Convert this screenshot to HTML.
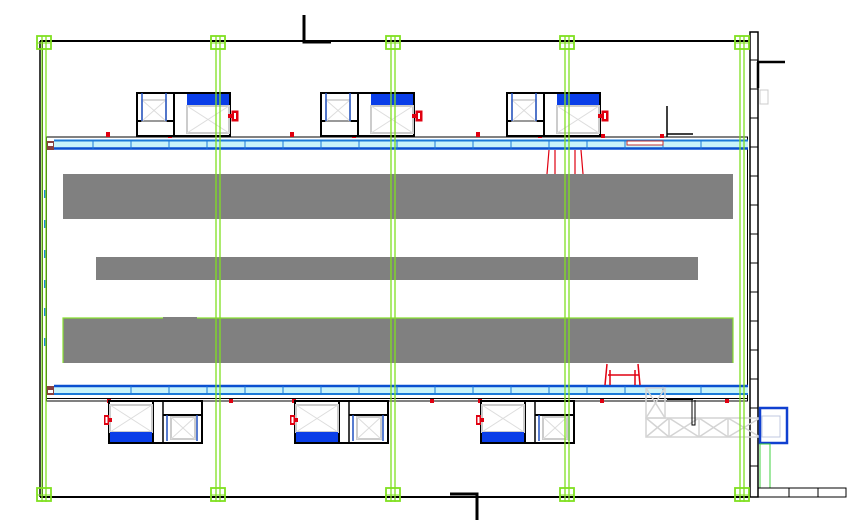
<!DOCTYPE html>
<html><head><meta charset="utf-8"><style>html,body{margin:0;padding:0;background:#fff}svg{display:block}</style></head>
<body>
<svg width="861" height="531" viewBox="0 0 861 531" xmlns="http://www.w3.org/2000/svg">
<defs>
<g id="tu">
  <rect x="0" y="0" width="93" height="43" fill="#fff" stroke="#000" stroke-width="2"/>
  <line x1="37" y1="0" x2="37" y2="43" stroke="#000" stroke-width="2"/>
  <line x1="0" y1="28" x2="37" y2="28" stroke="#000" stroke-width="2"/>
  <rect x="5" y="7" width="24" height="21" fill="none" stroke="#ccc" stroke-width="1.5"/>
  <line x1="5" y1="7" x2="29" y2="28" stroke="#ddd"/><line x1="29" y1="7" x2="5" y2="28" stroke="#ddd"/>
  <line x1="5" y1="0" x2="5" y2="28" stroke="#2050c0" stroke-width="1.5"/><line x1="29" y1="0" x2="29" y2="28" stroke="#2050c0" stroke-width="1.5"/>
  <rect x="50" y="1" width="42" height="12" fill="#0a3ee8"/>
  <rect x="50" y="13" width="42" height="27" fill="none" stroke="#ccc" stroke-width="2"/>
  <line x1="50" y1="13" x2="92" y2="40" stroke="#ddd"/><line x1="92" y1="13" x2="50" y2="40" stroke="#ddd"/>
  <rect x="95" y="18" width="6" height="10" fill="#e00010" stroke="#e00010" stroke-width="1"/>
  <rect x="97" y="20" width="2" height="6" fill="#fff"/>
  <rect x="91" y="21" width="4" height="4" fill="#e00010"/>
</g>
<g id="bu">
  <rect x="0" y="0" width="93" height="42" fill="#fff" stroke="#000" stroke-width="2"/>
  <line x1="44" y1="0" x2="44" y2="42" stroke="#000" stroke-width="2"/>
  <line x1="54" y1="0" x2="54" y2="42" stroke="#000" stroke-width="1.5"/>
  <line x1="54" y1="14" x2="93" y2="14" stroke="#000" stroke-width="2"/>
  <rect x="1" y="4" width="42" height="27" fill="none" stroke="#ccc" stroke-width="2"/>
  <line x1="1" y1="4" x2="43" y2="31" stroke="#ddd"/><line x1="43" y1="4" x2="1" y2="31" stroke="#ddd"/>
  <rect x="1" y="31" width="42" height="10" fill="#0a3ee8"/>
  <rect x="62" y="16" width="24" height="22" fill="none" stroke="#ccc" stroke-width="2"/>
  <line x1="62" y1="16" x2="86" y2="38" stroke="#ddd"/><line x1="86" y1="16" x2="62" y2="38" stroke="#ddd"/>
  <line x1="58" y1="14" x2="58" y2="40" stroke="#2050c0" stroke-width="1.5"/><line x1="88" y1="14" x2="88" y2="40" stroke="#2050c0" stroke-width="1.5"/>
  <rect x="-5" y="14" width="5" height="10" fill="#e00010"/>
  <rect x="-3.5" y="16" width="2" height="6" fill="#fff"/>
  <rect x="0" y="17" width="3" height="4" fill="#e00010"/>
</g>
<g id="col">
  <line x1="-2" y1="36" x2="-2" y2="502" stroke="#80e020" stroke-width="1.3"/>
  <line x1="2" y1="36" x2="2" y2="502" stroke="#80e020" stroke-width="1.3"/>
  <rect x="-7" y="36" width="14" height="13" fill="none" stroke="#80e020" stroke-width="1.8"/>
  <line x1="-7" y1="43" x2="7" y2="43" stroke="#80e020"/>
  <rect x="-7" y="488" width="14" height="13" fill="none" stroke="#80e020" stroke-width="1.8"/>
  <line x1="-7" y1="495" x2="7" y2="495" stroke="#80e020"/>
</g>
</defs>

<line x1="40" y1="41" x2="750" y2="41" stroke="#000" stroke-width="2"/>
<line x1="40" y1="497" x2="750" y2="497" stroke="#000" stroke-width="2"/>
<line x1="40" y1="41" x2="40" y2="497" stroke="#000" stroke-width="1.5"/>
<line x1="42.5" y1="41" x2="42.5" y2="497" stroke="#000" stroke-width="1"/>
<rect x="750" y="32" width="8" height="465" fill="#fff" stroke="#000" stroke-width="1.5"/>
<g stroke="#000" stroke-width="1">
<line x1="750" y1="60" x2="758" y2="60"/><line x1="750" y1="89" x2="758" y2="89"/><line x1="750" y1="118" x2="758" y2="118"/><line x1="750" y1="147" x2="758" y2="147"/><line x1="750" y1="176" x2="758" y2="176"/><line x1="750" y1="205" x2="758" y2="205"/><line x1="750" y1="234" x2="758" y2="234"/><line x1="750" y1="263" x2="758" y2="263"/><line x1="750" y1="292" x2="758" y2="292"/><line x1="750" y1="321" x2="758" y2="321"/><line x1="750" y1="350" x2="758" y2="350"/><line x1="750" y1="379" x2="758" y2="379"/><line x1="750" y1="408" x2="758" y2="408"/><line x1="750" y1="437" x2="758" y2="437"/><line x1="750" y1="466" x2="758" y2="466"/>
</g>
<path d="M757 62 H785 M758 62 V88" stroke="#000" stroke-width="2.5" fill="none"/>
<rect x="760" y="90" width="8" height="14" fill="none" stroke="#ccc"/>
<path d="M304 15 V42 H331" stroke="#000" stroke-width="3" fill="none"/>
<path d="M450 494 H477 V520" stroke="#000" stroke-width="3" fill="none"/>

<rect x="46.5" y="137" width="701" height="264" fill="none" stroke="#000" stroke-width="1"/>
<g stroke="#1a8ad8" stroke-width="2">
<line x1="45" y1="190" x2="45" y2="198"/><line x1="45" y1="220" x2="45" y2="228"/><line x1="45" y1="250" x2="45" y2="258"/><line x1="45" y1="280" x2="45" y2="288"/><line x1="45" y1="308" x2="45" y2="316"/><line x1="45" y1="338" x2="45" y2="346"/>
</g>

<rect x="54" y="140" width="694" height="9" fill="#c8f4fa"/>
<line x1="54" y1="140.5" x2="748" y2="140.5" stroke="#1a7ad8" stroke-width="2"/>
<line x1="54" y1="148.5" x2="748" y2="148.5" stroke="#0a50d0" stroke-width="2.5"/>
<rect x="47" y="141" width="7" height="9" fill="#884040"/><rect x="48" y="143" width="5" height="3" fill="#fff"/>
<rect x="54" y="387" width="694" height="7" fill="#c8f4fa"/>
<line x1="54" y1="386" x2="748" y2="386" stroke="#0a50d0" stroke-width="2.5"/>
<line x1="54" y1="394" x2="748" y2="394" stroke="#1a7ad8" stroke-width="2"/>
<line x1="47" y1="398.5" x2="748" y2="398.5" stroke="#000" stroke-width="1"/>
<rect x="47" y="386" width="7" height="9" fill="#884040"/><rect x="48" y="390" width="5" height="3" fill="#fff"/>
<g stroke="#1a7ad8" stroke-width="1">
<line x1="93" y1="140" x2="93" y2="149"/><line x1="131" y1="140" x2="131" y2="149"/><line x1="169" y1="140" x2="169" y2="149"/><line x1="207" y1="140" x2="207" y2="149"/><line x1="245" y1="140" x2="245" y2="149"/><line x1="283" y1="140" x2="283" y2="149"/><line x1="321" y1="140" x2="321" y2="149"/><line x1="359" y1="140" x2="359" y2="149"/><line x1="397" y1="140" x2="397" y2="149"/><line x1="435" y1="140" x2="435" y2="149"/><line x1="473" y1="140" x2="473" y2="149"/><line x1="511" y1="140" x2="511" y2="149"/><line x1="549" y1="140" x2="549" y2="149"/><line x1="587" y1="140" x2="587" y2="149"/><line x1="625" y1="140" x2="625" y2="149"/><line x1="663" y1="140" x2="663" y2="149"/><line x1="701" y1="140" x2="701" y2="149"/>
<line x1="131" y1="386" x2="131" y2="394"/><line x1="169" y1="386" x2="169" y2="394"/><line x1="207" y1="386" x2="207" y2="394"/><line x1="245" y1="386" x2="245" y2="394"/><line x1="283" y1="386" x2="283" y2="394"/><line x1="321" y1="386" x2="321" y2="394"/><line x1="359" y1="386" x2="359" y2="394"/><line x1="397" y1="386" x2="397" y2="394"/><line x1="435" y1="386" x2="435" y2="394"/><line x1="473" y1="386" x2="473" y2="394"/><line x1="511" y1="386" x2="511" y2="394"/><line x1="549" y1="386" x2="549" y2="394"/><line x1="587" y1="386" x2="587" y2="394"/><line x1="625" y1="386" x2="625" y2="394"/><line x1="663" y1="386" x2="663" y2="394"/><line x1="701" y1="386" x2="701" y2="394"/>
</g>
<rect x="627" y="141" width="36" height="4" fill="#fff" stroke="#c03030" stroke-width="1"/>
<g fill="#e00010">
<rect x="106" y="132" width="4" height="5"/><rect x="168" y="134" width="4" height="4"/><rect x="290" y="132" width="4" height="5"/><rect x="352" y="134" width="4" height="4"/><rect x="476" y="132" width="4" height="5"/><rect x="538" y="134" width="4" height="4"/><rect x="601" y="134" width="4" height="4"/><rect x="660" y="134" width="4" height="4"/>
<rect x="107" y="399" width="4" height="4"/><rect x="229" y="399" width="4" height="4"/><rect x="292" y="399" width="4" height="4"/><rect x="430" y="399" width="4" height="4"/><rect x="478" y="399" width="4" height="4"/><rect x="600" y="399" width="4" height="4"/><rect x="725" y="399" width="4" height="4"/>
</g>
<path d="M667 106 V137 M667 134 H693" stroke="#000" stroke-width="1.5" fill="none"/>

<rect x="63" y="174" width="670" height="45" fill="#808080"/>
<rect x="96" y="257" width="602" height="23" fill="#808080"/>
<rect x="63" y="318" width="670" height="45" fill="#808080"/>
<path d="M63 363 V318 H163 M197 318 H733 V363" stroke="#88e030" stroke-width="1.2" fill="none"/>
<rect x="163" y="317" width="34" height="2" fill="#808080"/>

<path d="M549 150 L547 174 M555 150 V174 M575 150 V174 M581 150 L583 174" stroke="#e00010" stroke-width="1.2" fill="none"/>
<path d="M605 385 L607 364 M608 375 H639 M610 385 V370 M635 385 V370 M640 385 L638 364" stroke="#e00010" stroke-width="1.5" fill="none"/>

<use href="#tu" x="137" y="93"/><use href="#tu" x="321" y="93"/><use href="#tu" x="507" y="93"/>
<use href="#bu" x="109" y="401"/><use href="#bu" x="295" y="401"/><use href="#bu" x="481" y="401"/>

<g stroke="#d4d4d4" stroke-width="1.5" fill="none">
<rect x="646" y="388" width="19" height="30"/><line x1="646" y1="388" x2="665" y2="418"/><line x1="665" y1="388" x2="646" y2="418"/>
<rect x="646" y="418" width="114" height="19"/>
<line x1="669" y1="418" x2="669" y2="437"/><line x1="699" y1="418" x2="699" y2="437"/><line x1="728" y1="418" x2="728" y2="437"/>
<path d="M646 418 L669 437 M669 418 L646 437 M669 418 L699 437 M699 418 L669 437 M699 418 L728 437 M728 418 L699 437 M728 418 L760 437 M760 418 L728 437"/>
</g>
<path d="M692 400 V425 H695 V400" stroke="#000" stroke-width="1" fill="none"/>
<line x1="667" y1="399" x2="693" y2="399" stroke="#000" stroke-width="2"/>
<rect x="760" y="408" width="27" height="35" fill="none" stroke="#1040d0" stroke-width="2.5"/>
<rect x="762" y="416" width="18" height="21" fill="none" stroke="#c0c8e0" stroke-width="1"/>
<rect x="760" y="444" width="10" height="44" fill="none" stroke="#40d040" stroke-width="1"/>
<rect x="758" y="488" width="88" height="9" fill="none" stroke="#000" stroke-width="1"/>
<line x1="789" y1="488" x2="789" y2="497" stroke="#000"/><line x1="818" y1="488" x2="818" y2="497" stroke="#000"/>

<use href="#col" x="44"/><use href="#col" x="218"/><use href="#col" x="393"/><use href="#col" x="567"/><use href="#col" x="742"/>
</svg>
</body></html>
